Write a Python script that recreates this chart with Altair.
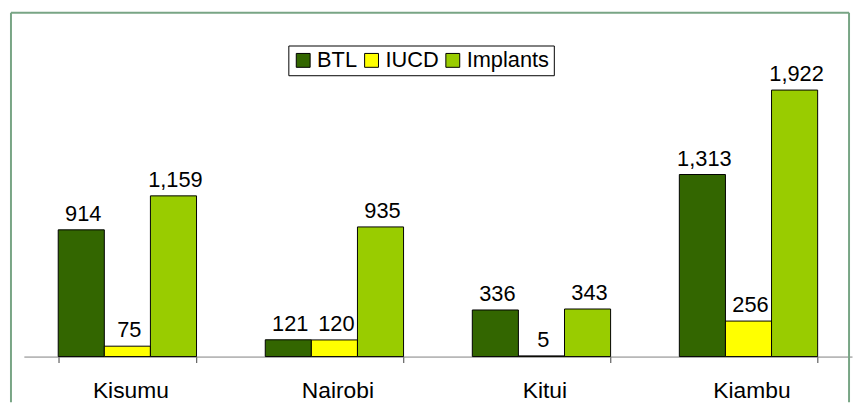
import altair as alt
import pandas as pd

districts = ["Kisumu", "Nairobi", "Kitui", "Kiambu"]
methods = ["BTL", "IUCD", "Implants"]
btl = [914, 121, 336, 1313]
iucd = [75, 120, 5, 256]
implants = [1159, 935, 343, 1922]
colors = ["#336600", "#FFFF00", "#99CC00"]

rows = []
for i, d in enumerate(districts):
    for m, vals in zip(methods, [btl, iucd, implants]):
        rows.append({"District": d, "Method": m, "Value": vals[i]})
df = pd.DataFrame(rows)

FONT = "Liberation Sans"
FRAME = "#78a585"

x_enc = alt.X(
    "District:N",
    sort=districts,
    scale=alt.Scale(paddingInner=0.332, paddingOuter=0.166),
    axis=alt.Axis(
        title=None,
        labelAngle=0,
        tickBand="extent",
        tickSize=6,
        tickColor="#404040",
        domainColor="#808080",
        domainWidth=1,
        labelFont=FONT,
        labelFontSize=23,
        labelColor="black",
        labelBaseline="alphabetic",
        labelPadding=35,
        labelOffset=3,
        grid=False,
    ),
)
xo_enc = alt.XOffset("Method:N", sort=methods, scale=alt.Scale(paddingInner=0, paddingOuter=0))
y_enc = alt.Y("Value:Q", scale=alt.Scale(domain=[0, 2479]), axis=None)

base = alt.Chart(df)

bars = base.mark_bar(stroke="black", strokeWidth=1).encode(
    x=x_enc,
    xOffset=xo_enc,
    y=y_enc,
    color=alt.Color(
        "Method:N",
        sort=methods,
        scale=alt.Scale(domain=methods, range=colors),
        legend=alt.Legend(
            title=None,
            orient="none",
            legendX=267,
            legendY=33,
            direction="horizontal",
            symbolType="square",
            symbolSize=196,
            symbolStrokeColor="black",
            symbolStrokeWidth=1,
            labelFont=FONT,
            labelFontSize=22,
            labelColor="black",
            labelOffset=3,
            columnPadding=3,
            padding=4,
            strokeColor="black",
            fillColor="white",
        ),
    ),
)

labels = base.mark_text(
    dy=-9, dx=2, baseline="alphabetic", fontSize=22, font=FONT, color="black"
).encode(
    x=x_enc,
    xOffset=xo_enc,
    y=y_enc,
    text=alt.Text("Value:Q", format=","),
)

one = pd.DataFrame({"k": [0]})
frame_left = alt.Chart(one).mark_rule(color=FRAME, strokeWidth=2).encode(
    x=alt.value(-13), y=alt.value(0), y2=alt.value(393)
)
frame_right = alt.Chart(one).mark_rule(color=FRAME, strokeWidth=2).encode(
    x=alt.value(833), y=alt.value(0), y2=alt.value(393)
)
frame_top = alt.Chart(one).mark_rule(color=FRAME, strokeWidth=2).encode(
    x=alt.value(-13), x2=alt.value(833), y=alt.value(0)
)

chart = (
    alt.layer(bars, labels, frame_left, frame_right, frame_top)
    .properties(
        width=836,
        height=347,
        padding={"left": 16, "top": 3, "right": 1, "bottom": 46},
        autosize=alt.AutoSizeParams(type="none"),
    )
    .configure_view(stroke=None)
)

chart.save("out.html", embed_options={"renderer": "svg", "actions": False})
